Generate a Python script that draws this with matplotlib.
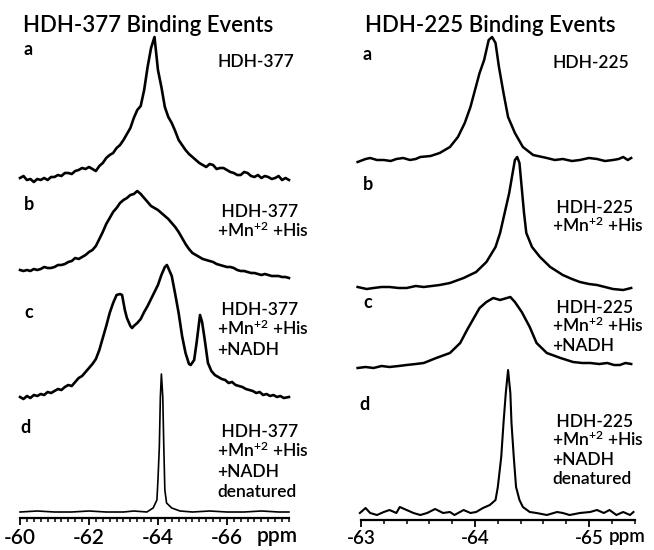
import matplotlib
matplotlib.use("Agg")
import matplotlib.pyplot as plt
from matplotlib.ticker import MultipleLocator, FormatStrFormatter

plt.rcParams["font.family"] = ["Lato", "DejaVu Sans"]
plt.rcParams["axes.unicode_minus"] = False
plt.rcParams["mathtext.default"] = "regular"

W, H = 654, 550

# ---- HDH-377 spectra: ppm and height above each trace's own baseline ----
ppm_377 = [-60.0, -60.1, -60.2, -60.3, -60.4, -60.5, -60.6, -60.7, -60.8, -60.9,
           -61.0, -61.1, -61.2, -61.3, -61.4, -61.5, -61.6, -61.7, -61.8, -61.9,
           -62.0, -62.1, -62.2, -62.3, -62.4, -62.5, -62.6, -62.7, -62.8, -62.9,
           -63.0, -63.1, -63.2, -63.3, -63.4, -63.5, -63.6, -63.7, -63.8, -63.9,
           -64.0, -64.1, -64.2, -64.3, -64.4, -64.5, -64.6, -64.7, -64.8, -64.9,
           -65.0, -65.1, -65.2, -65.3, -65.4, -65.5, -65.6, -65.7, -65.8, -65.9,
           -66.0, -66.1, -66.2, -66.3, -66.4, -66.5, -66.6, -66.7, -66.8, -66.9,
           -67.0, -67.1, -67.2, -67.3, -67.4, -67.5, -67.6, -67.7, -67.8]
hdh377_a = [0, 2, -2, -1, -4, -1, -2, 0, -2, 1,
            1, 3, 2, 5, 5, 4, 7, 8, 10, 9,
            11, 9, 7, 12, 15, 20, 23, 25, 30, 33,
            38, 44, 50, 60, 68, 72, 88, 111, 130, 141,
            108, 91, 71, 61, 55, 47, 38, 33, 28, 24,
            21, 18, 15, 13, 11, 14, 13, 9, 10, 10,
            8, 6, 5, 3, 3, 6, 5, 2, 1, 3,
            0, 2, 1, -1, 0, 2, -2, 0, -2]
hdh377_b = [4, 3, 4, 3, 5, 4, 5, 7, 6, 6,
            7, 9, 9, 10, 12, 13, 16, 15, 17, 19,
            22, 24, 28, 35, 42, 50, 56, 62, 66, 71,
            74, 76, 79, 80, 83, 80, 76, 72, 68, 66,
            64, 61, 58, 55, 51, 47, 42, 36, 30, 25,
            21, 19, 17, 15, 14, 13, 12, 10, 9, 8,
            7, 7, 6, 4, 3, 3, 2, 1, 1, 0,
            -1, 0, -1, -2, -2, -2, -3, -3, -4]
ppm_377_c = [-60.0, -60.1, -60.2, -60.3, -60.4, -60.5, -60.6, -60.7, -60.8, -60.9,
             -61.0, -61.1, -61.2, -61.3, -61.4, -61.5, -61.6, -61.7, -61.8, -61.9,
             -62.0, -62.1, -62.2, -62.3, -62.4, -62.5, -62.6, -62.7, -62.8, -62.9,
             -62.96, -63.04, -63.1, -63.2, -63.25, -63.3,
             -63.4, -63.5, -63.6, -63.7, -63.8, -63.9, -64.0, -64.1, -64.2,
             -64.26, -64.3, -64.4, -64.5, -64.6, -64.7, -64.8, -64.9,
             -64.95, -65.05, -65.12, -65.22, -65.28, -65.35,
             -65.45, -65.55, -65.65, -65.75, -65.85, -65.95, -66.05, -66.15, -66.25, -66.35,
             -66.45, -66.55, -66.65, -66.75, -66.85, -66.95, -67.05, -67.15, -67.25, -67.35,
             -67.45, -67.55, -67.65, -67.8]
hdh377_c = [1, -1, 2, 0, 3, 2, 4, 3, 6, 5,
            7, 9, 8, 11, 13, 12, 16, 20, 22, 26,
            30, 34, 39, 48, 60, 72, 85, 95, 103, 104,
            103, 88, 80, 72, 70, 72,
            75, 79, 86, 92, 99, 106, 113, 123, 131,
            133, 130, 122, 104, 85, 62, 45, 34,
            33, 38, 55, 83, 76, 60,
            35, 27, 23, 21, 19, 18, 15, 16, 13, 12,
            11, 9, 8, 7, 5, 6, 3, 4, 2, 3,
            1, 2, 0, 1]
ppm_377_d = [-60.0, -60.5, -61.0, -61.5, -62.0, -62.5, -63.0, -63.3, -63.68, -63.86,
             -63.97, -64.0, -64.04, -64.07, -64.1, -64.14, -64.17, -64.2, -64.25, -64.4,
             -64.64, -65.0, -65.5, -66.0, -66.5, -67.0, -67.5, -67.8]
hdh377_d = [0, 1, 0, 0, 1, 0, 0, 1, 0, 4,
            12, 32, 65, 115, 138, 115, 65, 22, 9, 4,
            1, 0, 1, 0, 0, 1, 0, 0]

# ---- HDH-225 spectra ----
ppm_225_a = [-62.97, -63.04, -63.08, -63.14, -63.20, -63.26, -63.31, -63.37, -63.43, -63.48,
             -63.52, -63.61, -63.69, -63.78, -63.85, -63.91, -63.96, -64.00, -64.04, -64.08,
             -64.12, -64.15, -64.18, -64.21, -64.25, -64.29, -64.35, -64.42, -64.51, -64.63,
             -64.70, -64.77, -64.85, -64.92, -65.00, -65.07, -65.14, -65.21, -65.26, -65.30,
             -65.34, -65.37]
hdh225_a = [-2, 1, 2, 0, 0, -1, 1, 2, 0, 1,
            3, 4, 7, 13, 23, 37, 53, 70, 87, 100,
            120, 123, 117, 93, 67, 43, 27, 13, 5, 2,
            0, 1, -1, 0, 2, 1, -1, 0, 1, 3,
            0, 2]
ppm_225_b = [-62.97, -63.05, -63.11, -63.18, -63.25, -63.33, -63.40, -63.48, -63.55, -63.62,
             -63.69, -63.78, -63.90, -64.01, -64.10, -64.18, -64.22, -64.26, -64.30, -64.33,
             -64.35, -64.37, -64.39, -64.41, -64.43, -64.45, -64.50, -64.57, -64.66, -64.77,
             -64.85, -64.92, -65.00, -65.07, -65.14, -65.21, -65.30, -65.37]
hdh225_b = [1, -1, 0, 1, 1, 0, 0, 2, 1, 2,
            3, 5, 10, 16, 26, 41, 55, 75, 95, 115,
            128, 131, 125, 100, 75, 55, 41, 31, 21, 13,
            9, 6, 4, 3, 1, -1, -2, 0]
ppm_225_c = [-62.97, -63.04, -63.11, -63.18, -63.25, -63.33, -63.40, -63.48, -63.55, -63.66,
             -63.78, -63.87, -63.93, -63.99, -64.04, -64.10, -64.16, -64.22, -64.28, -64.31,
             -64.35, -64.41, -64.48, -64.54, -64.63, -64.75, -64.86, -64.94, -65.01, -65.09,
             -65.16, -65.22, -65.27, -65.32, -65.37]
hdh225_c = [-1, 0, -1, 1, 0, 1, 2, 3, 4, 9,
            14, 24, 37, 49, 59, 65, 69, 67, 69, 70,
            65, 55, 40, 24, 14, 9, 5, 4, 4, 3,
            4, 2, 2, 4, 3]
ppm_225_d = [-62.99, -63.04, -63.08, -63.14, -63.20, -63.25, -63.31, -63.34, -63.40, -63.46,
             -63.52, -63.58, -63.65, -63.72, -63.78, -63.82, -63.90, -63.96, -64.01, -64.07,
             -64.13, -64.18, -64.20, -64.23, -64.25, -64.27, -64.29, -64.31, -64.32, -64.34,
             -64.36, -64.39, -64.42, -64.48, -64.54, -64.63, -64.72, -64.77, -64.83, -64.92,
             -65.01, -65.07, -65.13, -65.18, -65.24, -65.30, -65.36, -65.39]
hdh225_d = [0, 5, 0, -2, 1, 3, 0, 6, 3, 0,
            -2, 0, 4, 0, 1, -2, 3, 0, 1, 5,
            8, 13, 26, 56, 90, 120, 143, 120, 90, 56,
            26, 13, 6, 1, 0, -2, 1, 0, -2, 0,
            1, 3, 0, 3, -2, 1, -2, 1]

mn_his = r"+Mn$^{\mathregular{+2}}$ +His"
labels_377 = [["HDH-377"],
              [" HDH-377", mn_his],
              [" HDH-377", mn_his, "+NADH"],
              [" HDH-377", mn_his, "+NADH", "denatured"]]
labels_225 = [["HDH-225"],
              [" HDH-225", mn_his],
              [" HDH-225", mn_his, "+NADH"],
              [" HDH-225", mn_his, "+NADH", "denatured"]]


def px(x, y):
    return x / W, 1 - y / H


fig = plt.figure(figsize=(W / 100, H / 100), dpi=100)
ax1 = fig.add_axes([19 / W, 32 / H, 271 / W, 488 / H])
ax2 = fig.add_axes([357.6 / W, 30 / H, 277 / W, 490 / H])

# stacked traces, offsets in the same height units
left = [(ppm_377, hdh377_a, 340, 1.9), (ppm_377, hdh377_b, 244, 1.9),
        (ppm_377_c, hdh377_c, 120, 1.9), (ppm_377_d, hdh377_d, 6, 1.2)]
right = [(ppm_225_a, hdh225_a, 360, 1.8), (ppm_225_b, hdh225_b, 232, 1.8),
         (ppm_225_c, hdh225_c, 153, 1.8), (ppm_225_d, hdh225_d, 7, 1.5)]
for x, y, off, lw in left:
    ax1.plot(x, [v + off for v in y], color="black", lw=lw, clip_on=False)
for x, y, off, lw in right:
    ax2.plot(x, [v + off for v in y], color="black", lw=lw, clip_on=False)

ax1.set_xlim(-59.97, -67.83)
ax1.set_ylim(0, 488)
ax1.spines["bottom"].set_bounds(-60, -67.8)
ax1.xaxis.set_major_locator(MultipleLocator(2))
ax1.xaxis.set_minor_locator(MultipleLocator(0.2))
ax1.tick_params(axis="x", labelsize=15, pad=2)

ax2.set_xlim(-62.97, -65.40)
ax2.set_ylim(0, 490)
ax2.spines["bottom"].set_bounds(-63, -65.4)
ax2.xaxis.set_major_locator(MultipleLocator(1))
ax2.xaxis.set_minor_locator(MultipleLocator(0.2))
ax2.tick_params(axis="x", labelsize=13.5, pad=2)

for ax in (ax1, ax2):
    for s in ("left", "right", "top"):
        ax.spines[s].set_visible(False)
    ax.spines["bottom"].set_linewidth(1.6)
    ax.set_yticks([])
    ax.patch.set_alpha(0)
    ax.xaxis.set_major_formatter(FormatStrFormatter("%d"))
    ax.tick_params(axis="x", which="major", length=5, width=1.3, direction="out")
    ax.tick_params(axis="x", which="minor", length=3, width=1.1, direction="out")
    for lab in ax.get_xticklabels():
        lab.set_fontweight("semibold")

fig.text(*px(257, 542), "ppm", fontsize=15, va="baseline", fontweight="semibold")
fig.text(*px(609, 542), "ppm", fontsize=13.5, va="baseline", fontweight="semibold")

# titles
fig.text(*px(23, 32), "HDH-377 Binding Events", fontsize=16, va="baseline",
         fontweight="semibold")
fig.text(*px(365, 32), "HDH-225 Binding Events", fontsize=16, va="baseline",
         fontweight="semibold")

# panel letters
for ch, (x, y) in zip("abcd", [(24, 55), (24, 210), (24, 318), (20, 433)]):
    fig.text(*px(x, y), ch, fontsize=13, fontweight="bold", va="baseline")
for ch, (x, y) in zip("abcd", [(362, 60), (363, 190), (363, 308), (359, 410)]):
    fig.text(*px(x, y), ch, fontsize=13, fontweight="bold", va="baseline")

# sample descriptions
for lines, y0 in zip(labels_377, [67, 217, 315, 437]):
    for i, t in enumerate(lines):
        fig.text(*px(217, y0 + 20 * i), t, fontsize=12.5, va="baseline",
                 fontweight="semibold")
for lines, y0 in zip(labels_225, [68, 213, 313, 427]):
    for i, t in enumerate(lines):
        fig.text(*px(552, y0 + 19 * i), t, fontsize=12.5, va="baseline",
                 fontweight="semibold")

fig.savefig("out.png", dpi=100)
